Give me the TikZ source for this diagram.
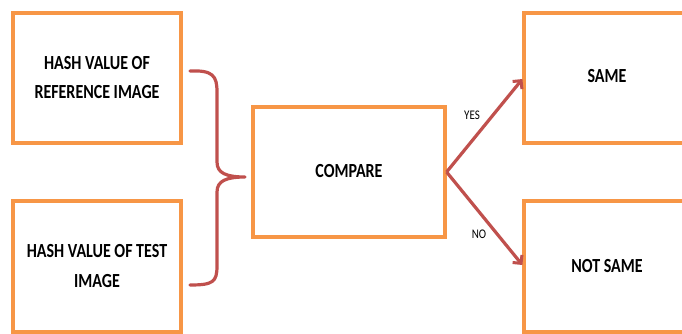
\documentclass[tikz,border=0pt]{standalone}
\usepackage{fontspec}
\setmainfont{Carlito}
\usetikzlibrary{arrows.meta}
\definecolor{boxorange}{RGB}{247,150,70}
\definecolor{arrred}{RGB}{192,80,77}
\newcommand{\bxt}[1]{\scalebox{1}[1.25]{\begin{tabular}{@{}c@{}}#1\end{tabular}}}
\begin{document}
\begin{tikzpicture}[x=1pt,y=-1pt,
  boxst/.style={draw=boxorange,line width=3.2pt,fill=white,inner sep=0pt,
    font=\fontsize{16}{23.5}\selectfont\bfseries},
  txtst/.style={font=\fontsize{16}{23.5}\selectfont\bfseries},
  lblst/.style={font=\fontsize{11}{13}\selectfont},
  arrst/.style={draw=arrred,line width=3.2pt,-{Straight Barb[length=6pt,width=12pt,line width=3pt]}},
  bracest/.style={draw=arrred,line width=3.2pt,line cap=round}]
\useasboundingbox (0,0) rectangle (682,333);
\clip (0,0) rectangle (682,333);
\fill[white] (0,0) rectangle (682,333);
\node[boxst,minimum width=168pt,minimum height=130pt] (ref) at (97,78) {\bxt{HASH VALUE OF\\REFERENCE IMAGE}};
\node[boxst,minimum width=168pt,minimum height=131pt] (test) at (97,266.5) {\bxt{HASH VALUE OF TEST\\IMAGE}};
\node[boxst,minimum width=192pt,minimum height=130pt] (cmp) at (349,172) {\bxt{COMPARE}};
\node[boxst,minimum width=166pt,minimum height=130pt] (same) at (607,78) {};
\node[boxst,minimum width=166pt,minimum height=131pt] (nsame) at (607,266.5) {};
\node[txtst] (samet) at (607,77) {\bxt{SAME}};
\node[txtst] (nsamet) at (607,267) {\bxt{NOT SAME}};
% brace
\coordinate (b1) at (190,71);
\coordinate (b2) at (190,285);
\coordinate (tip) at (245,177);
\draw[bracest] (b1) .. controls (213,70) and (217,76) .. (217,92)
  -- (217,162) .. controls (217,173) and (226,177) .. (tip)
  (tip) .. controls (226,177) and (217,181) .. (217,192)
  -- (217,266) .. controls (217,282) and (213,285) .. (b2);
\draw[arrst] (cmp.east) -- (same.west |- 0,79);
\draw[arrst] (cmp.east) -- (nsame.west |- 0,265);
\node[lblst] (yes) at (472,115) {\scalebox{1}[1.2]{YES}};
\node[lblst] (no) at (479,234) {\scalebox{1}[1.2]{NO}};
\end{tikzpicture}
\end{document}
